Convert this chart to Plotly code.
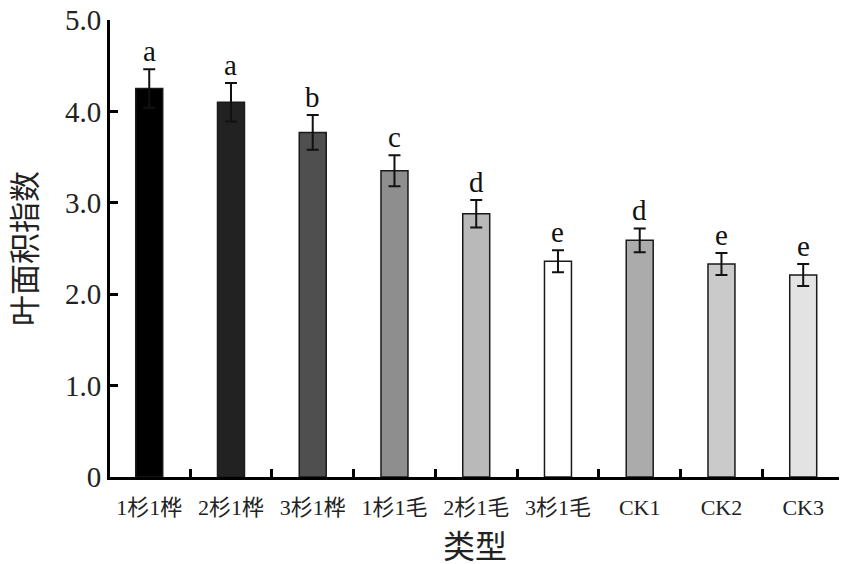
import plotly.graph_objects as go

categories = ["1杉1桦", "2杉1桦", "3杉1桦", "1杉1毛", "2杉1毛", "3杉1毛", "CK1", "CK2", "CK3"]
lai = [4.25, 4.10, 3.77, 3.35, 2.88, 2.36, 2.59, 2.33, 2.21]
lai_err = [0.21, 0.21, 0.19, 0.17, 0.15, 0.12, 0.13, 0.12, 0.12]
sig_letters = ["a", "a", "b", "c", "d", "e", "d", "e", "e"]
bar_colors = ["#000000", "#222222", "#4f4f4f", "#8e8e8e", "#b9b9b9",
              "#ffffff", "#ababab", "#cacaca", "#e3e3e3"]
y_ticks = [0, 1, 2, 3, 4, 5]
y_ticktext = ["0", "1.0", "2.0", "3.0", "4.0", "5.0"]

serif = "Liberation Serif, Noto Sans CJK SC, serif"

fig = go.Figure()
fig.add_trace(go.Bar(
    x=list(range(len(categories))),
    y=lai,
    width=0.33,
    marker=dict(color=bar_colors, line=dict(color="#1a1a1a", width=1.5)),
    error_y=dict(type="data", array=lai_err, color="#111111", thickness=2, width=6),
    showlegend=False,
))

for i, (v, e, s) in enumerate(zip(lai, lai_err, sig_letters)):
    fig.add_annotation(x=i, y=v + e, text=s, showarrow=False, yanchor="bottom",
                       yshift=0, font=dict(family=serif, size=29, color="#111111"))

# page has an 8px body margin, so the margins are shifted to land where the reference is
fig.update_layout(
    width=847, height=564,
    margin=dict(l=102, r=15, t=12, b=95),
    plot_bgcolor="white", paper_bgcolor="white",
)
fig.update_xaxes(
    range=[-0.48, 8.45],
    automargin=False,
    tickvals=list(range(len(categories))),
    ticktext=categories,
    ticks="",
    ticklabelstandoff=9,
    minor=dict(tickvals=[i + 0.5 for i in range(len(categories) - 1)],
               ticks="inside", ticklen=8, tickwidth=2.5, tickcolor="black"),
    showline=True, linecolor="black", linewidth=3,
    showgrid=False, zeroline=False,
    tickfont=dict(family=serif, size=22, color="#222222"),
    title=dict(text="类型", font=dict(family=serif, size=32, color="#222222"), standoff=17),
)
fig.update_yaxes(
    range=[0, 5],
    automargin=False,
    tickvals=y_ticks, ticktext=y_ticktext,
    ticks="inside", ticklen=8, tickwidth=2.5, tickcolor="black",
    ticklabeloverflow="allow",
    showline=True, linecolor="black", linewidth=3,
    showgrid=False, zeroline=False,
    tickfont=dict(family=serif, size=29, color="#222222"),
    title=dict(text="叶面积指数", font=dict(family=serif, size=31, color="#222222"), standoff=32),
)

fig.write_html("out.html")
